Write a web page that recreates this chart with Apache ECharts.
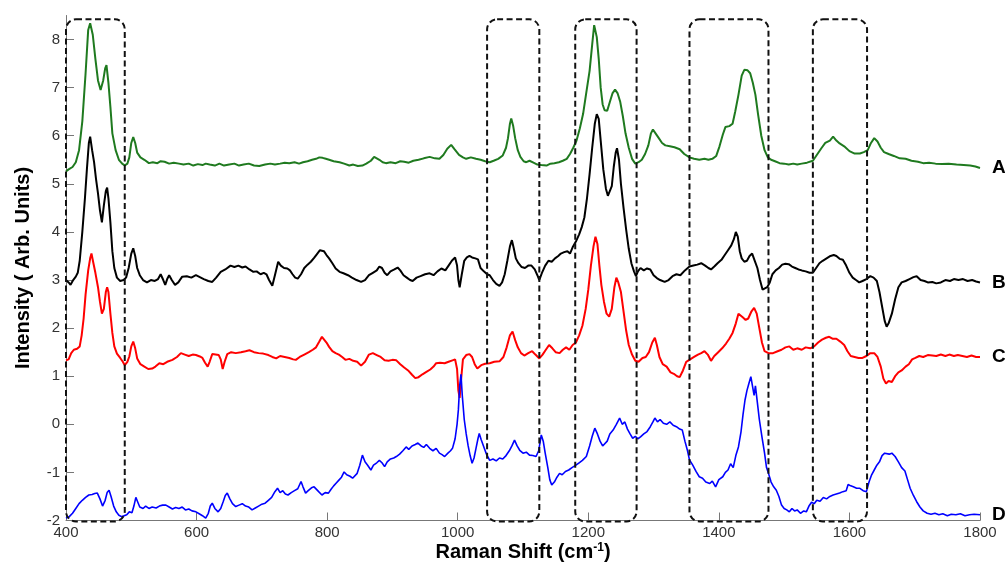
<!DOCTYPE html>
<html>
<head>
<meta charset="utf-8">
<script src="https://cdn.jsdelivr.net/npm/echarts@6.0.0/dist/echarts.min.js"></script>
<style>
html,body{margin:0;padding:0;background:#fff;}
#chart{width:1005px;height:563px;}
</style>
</head>
<body>
<div id="chart"></div>
<script>
// ---- data (Raman shift cm-1, intensity arb. units) ----
const xTicks = [400, 600, 800, 1000, 1200, 1400, 1600, 1800];
const yTicks = [-2, -1, 0, 1, 2, 3, 4, 5, 6, 7, 8];
const curveLabels = ['A', 'B', 'C', 'D'];
const curveColors = ['#1f7a1f', '#000000', '#ff0000', '#0000ff'];
const boxRanges = [[400, 490], [1045, 1125], [1180, 1274], [1355, 1476], [1544, 1627]];
const boxYRange = [-2.02, 8.42];

const spectrumA = [[400,5.26],[404,5.3],[410,5.35],[415,5.45],[420,5.7],[425,6.3],[430,7.3],[434,8.2],[437,8.34],[441,8.1],[445,7.6],[449,7.15],[453,6.95],[457,7.15],[460,7.4],[462,7.47],[465,7.1],[468,6.6],[471,6.05],[476,5.7],[481,5.5],[486,5.42],[490,5.38],[494,5.42],[497,5.55],[500,5.85],[503,5.97],[506,5.85],[509,5.65],[514,5.55],[520,5.5],[527,5.43],[533,5.45],[540,5.43],[545,5.47],[551,5.46],[558,5.42],[565,5.44],[573,5.42],[580,5.4],[588,5.42],[595,5.38],[602,5.41],[609,5.39],[614,5.42],[620,5.4],[628,5.38],[635,5.42],[642,5.38],[650,5.4],[658,5.42],[665,5.38],[672,5.4],[680,5.42],[688,5.38],[696,5.37],[705,5.4],[713,5.42],[720,5.4],[728,5.42],[735,5.44],[742,5.43],[750,5.45],[757,5.42],[763,5.45],[770,5.47],[777,5.5],[783,5.52],[788,5.55],[793,5.54],[798,5.52],[803,5.5],[810,5.47],[819,5.45],[826,5.42],[834,5.38],[840,5.4],[847,5.37],[854,5.38],[860,5.42],[867,5.48],[872,5.56],[875,5.58],[880,5.5],[885,5.45],[890,5.43],[897,5.45],[905,5.43],[912,5.47],[918,5.46],[925,5.44],[932,5.48],[940,5.5],[948,5.53],[957,5.56],[965,5.53],[972,5.52],[978,5.6],[984,5.73],[990,5.81],[995,5.72],[1002,5.6],[1008,5.55],[1013,5.52],[1020,5.55],[1028,5.52],[1035,5.5],[1042,5.47],[1049,5.45],[1055,5.48],[1062,5.52],[1069,5.59],[1074,5.75],[1077,5.95],[1080,6.25],[1082,6.36],[1085,6.2],[1088,5.95],[1092,5.7],[1096,5.56],[1101,5.47],[1105,5.45],[1110,5.48],[1116,5.44],[1122,5.4],[1128,5.39],[1136,5.38],[1142,5.42],[1148,5.43],[1155,5.45],[1161,5.48],[1167,5.52],[1172,5.62],[1177,5.75],[1182,5.9],[1187,6.15],[1192,6.45],[1197,6.9],[1202,7.35],[1206,7.9],[1209,8.3],[1211,8.34],[1213,8.05],[1216,7.6],[1219,7.0],[1222,6.65],[1225,6.53],[1229,6.52],[1233,6.7],[1237,6.88],[1241,6.96],[1245,6.88],[1249,6.7],[1253,6.4],[1257,6.05],[1262,5.75],[1267,5.52],[1272,5.42],[1277,5.45],[1282,5.5],[1287,5.62],[1292,5.8],[1296,6.05],[1299,6.13],[1303,6.05],[1308,5.95],[1313,5.85],[1318,5.8],[1325,5.78],[1332,5.76],[1340,5.72],[1347,5.62],[1355,5.55],[1362,5.52],[1370,5.5],[1378,5.52],[1384,5.5],[1390,5.52],[1396,5.58],[1401,5.78],[1406,6.02],[1410,6.18],[1416,6.2],[1421,6.25],[1425,6.5],[1430,6.85],[1435,7.25],[1439,7.37],[1444,7.36],[1448,7.3],[1452,7.1],[1456,6.85],[1460,6.45],[1465,6.0],[1470,5.7],[1475,5.55],[1480,5.5],[1486,5.47],[1493,5.43],[1500,5.42],[1507,5.4],[1514,5.42],[1520,5.4],[1527,5.42],[1535,5.44],[1544,5.48],[1550,5.6],[1557,5.74],[1563,5.85],[1570,5.9],[1575,5.98],[1580,5.9],[1585,5.84],[1592,5.78],[1600,5.68],[1608,5.63],[1616,5.63],[1622,5.66],[1628,5.7],[1633,5.85],[1638,5.95],[1643,5.88],[1648,5.75],[1653,5.66],[1660,5.62],[1668,5.58],[1677,5.53],[1686,5.52],[1695,5.48],[1705,5.46],[1713,5.43],[1722,5.44],[1732,5.42],[1742,5.41],[1752,5.42],[1764,5.4],[1775,5.39],[1785,5.38],[1793,5.36],[1800,5.33]];

const spectrumB = [[400,3.0],[404,2.95],[407,2.9],[411,3.0],[415,3.07],[418,3.15],[421,3.4],[425,4.0],[429,4.7],[432,5.3],[435,5.85],[437,5.98],[440,5.7],[443,5.45],[446,5.1],[449,4.8],[452,4.45],[455,4.2],[458,4.55],[461,4.85],[463,4.92],[465,4.7],[468,4.2],[471,3.6],[474,3.25],[478,3.05],[483,2.98],[488,3.0],[492,3.05],[496,3.25],[500,3.55],[503,3.66],[506,3.5],[509,3.25],[513,3.1],[518,3.0],[524,2.95],[530,3.0],[536,2.98],[541,3.02],[545,3.12],[549,3.0],[552,2.9],[555,3.02],[558,3.1],[562,3.0],[567,2.9],[572,2.95],[578,3.07],[585,3.08],[592,3.05],[599,3.1],[605,3.06],[611,3.02],[618,2.98],[624,2.96],[630,3.05],[637,3.17],[644,3.22],[652,3.3],[658,3.27],[664,3.3],[670,3.26],[675,3.28],[681,3.22],[687,3.17],[692,3.18],[698,3.12],[703,3.15],[707,3.12],[711,3.0],[716,2.88],[720,3.1],[725,3.38],[729,3.3],[734,3.25],[739,3.24],[743,3.2],[747,3.12],[751,3.05],[755,3.03],[760,3.12],[765,3.25],[770,3.32],[775,3.38],[780,3.46],[785,3.55],[789,3.62],[792,3.66],[795,3.6],[799,3.52],[803,3.45],[808,3.35],[813,3.24],[819,3.17],[825,3.14],[832,3.1],[838,3.05],[845,3.0],[852,2.96],[858,3.0],[864,3.1],[870,3.15],[876,3.2],[880,3.28],[884,3.25],[888,3.15],[892,3.1],[897,3.18],[903,3.22],[908,3.26],[912,3.2],[917,3.1],[922,3.05],[927,3.0],[931,2.98],[937,3.05],[943,3.08],[950,3.12],[957,3.14],[963,3.1],[969,3.18],[975,3.24],[981,3.2],[986,3.3],[991,3.4],[996,3.47],[999,3.3],[1001,3.0],[1003,2.85],[1006,3.1],[1010,3.4],[1014,3.47],[1018,3.5],[1022,3.47],[1027,3.45],[1031,3.43],[1035,3.25],[1040,3.18],[1045,3.12],[1049,3.1],[1054,3.0],[1059,2.92],[1064,2.88],[1068,2.95],[1072,3.12],[1076,3.4],[1080,3.7],[1083,3.83],[1086,3.65],[1089,3.45],[1093,3.35],[1098,3.27],[1103,3.25],[1108,3.3],[1113,3.3],[1118,3.22],[1122,3.1],[1125,3.0],[1129,3.15],[1134,3.3],[1139,3.4],[1144,3.38],[1149,3.45],[1154,3.5],[1158,3.55],[1163,3.58],[1168,3.6],[1172,3.55],[1176,3.68],[1181,3.8],[1186,3.95],[1190,4.1],[1194,4.3],[1198,4.7],[1202,5.2],[1206,5.75],[1210,6.25],[1213,6.45],[1216,6.35],[1219,5.9],[1223,5.3],[1227,4.9],[1230,4.75],[1233,4.72],[1236,4.95],[1239,5.35],[1242,5.65],[1244,5.74],[1247,5.5],[1250,5.0],[1254,4.5],[1258,4.05],[1262,3.65],[1266,3.35],[1270,3.18],[1273,3.08],[1276,3.18],[1280,3.25],[1285,3.2],[1290,3.24],[1295,3.22],[1300,3.1],[1305,3.04],[1310,3.0],[1317,2.96],[1323,3.0],[1329,3.08],[1335,3.12],[1341,3.1],[1348,3.2],[1355,3.28],[1361,3.3],[1367,3.32],[1373,3.35],[1379,3.3],[1384,3.25],[1388,3.22],[1393,3.28],[1398,3.35],[1404,3.42],[1409,3.52],[1414,3.62],[1419,3.72],[1423,3.85],[1426,4.0],[1429,3.9],[1432,3.6],[1435,3.45],[1439,3.38],[1443,3.4],[1447,3.5],[1451,3.55],[1455,3.4],[1459,3.25],[1463,3.0],[1467,2.8],[1470,2.76],[1474,2.85],[1478,2.95],[1482,3.12],[1487,3.2],[1492,3.25],[1497,3.32],[1502,3.34],[1507,3.33],[1512,3.28],[1517,3.25],[1522,3.22],[1527,3.2],[1533,3.18],[1539,3.15],[1544,3.15],[1549,3.25],[1554,3.35],[1559,3.4],[1565,3.45],[1571,3.5],[1576,3.52],[1580,3.5],[1585,3.44],[1590,3.42],[1595,3.3],[1600,3.15],[1605,3.05],[1610,3.0],[1615,2.95],[1620,2.98],[1626,3.02],[1632,3.08],[1637,3.05],[1642,2.98],[1646,2.75],[1650,2.45],[1654,2.15],[1657,2.03],[1660,2.1],[1665,2.3],[1670,2.6],[1675,2.85],[1680,2.95],[1686,2.98],[1692,3.02],[1698,3.06],[1703,3.08],[1709,3.0],[1715,2.98],[1720,2.95],[1727,2.96],[1733,2.93],[1740,2.95],[1747,3.0],[1754,2.98],[1760,3.02],[1767,3.0],[1774,3.02],[1781,2.98],[1788,3.0],[1794,2.97],[1800,2.95]];

const spectrumC = [[400,1.33],[404,1.35],[408,1.48],[412,1.55],[417,1.57],[421,1.62],[424,1.85],[427,2.2],[430,2.7],[434,3.2],[437,3.45],[439,3.55],[442,3.35],[445,3.15],[449,2.85],[452,2.55],[455,2.3],[458,2.4],[461,2.75],[463,2.85],[465,2.75],[468,2.3],[471,1.9],[474,1.62],[478,1.47],[483,1.38],[487,1.3],[490,1.23],[494,1.3],[497,1.41],[500,1.62],[503,1.72],[506,1.58],[509,1.37],[514,1.25],[520,1.2],[526,1.15],[532,1.16],[537,1.2],[543,1.27],[549,1.25],[555,1.3],[563,1.34],[570,1.4],[576,1.48],[582,1.45],[588,1.42],[594,1.45],[599,1.44],[605,1.41],[609,1.38],[613,1.28],[617,1.2],[620,1.3],[624,1.46],[629,1.45],[634,1.44],[637,1.35],[640,1.15],[643,1.3],[647,1.46],[653,1.5],[660,1.48],[668,1.5],[675,1.52],[681,1.54],[688,1.5],[695,1.48],[702,1.47],[710,1.44],[716,1.4],[722,1.37],[728,1.42],[735,1.4],[742,1.38],[748,1.35],[752,1.34],[758,1.4],[765,1.45],[772,1.5],[778,1.55],[783,1.6],[788,1.72],[792,1.82],[795,1.78],[799,1.7],[803,1.61],[808,1.52],[813,1.48],[818,1.45],[823,1.4],[828,1.34],[834,1.36],[840,1.32],[846,1.3],[852,1.22],[858,1.3],[864,1.45],[870,1.48],[876,1.44],[882,1.4],[888,1.33],[894,1.32],[900,1.34],[906,1.33],[912,1.25],[918,1.18],[924,1.12],[930,1.03],[935,0.96],[940,0.98],[946,1.04],[952,1.09],[958,1.14],[963,1.2],[967,1.27],[973,1.28],[980,1.27],[986,1.3],[992,1.33],[996,1.35],[999,1.15],[1001,0.7],[1003,0.55],[1005,0.9],[1008,1.35],[1013,1.44],[1018,1.46],[1022,1.4],[1026,1.25],[1030,1.16],[1036,1.23],[1042,1.26],[1049,1.27],[1056,1.3],[1064,1.31],[1070,1.4],[1075,1.6],[1080,1.85],[1084,1.93],[1088,1.75],[1092,1.6],[1097,1.48],[1102,1.43],[1108,1.48],[1114,1.52],[1119,1.45],[1125,1.37],[1130,1.45],[1135,1.55],[1140,1.65],[1145,1.58],[1150,1.5],[1156,1.48],[1161,1.55],[1166,1.6],[1171,1.55],[1176,1.65],[1181,1.7],[1186,1.85],[1191,2.05],[1196,2.4],[1200,2.8],[1204,3.3],[1208,3.7],[1211,3.9],[1214,3.75],[1217,3.3],[1220,2.9],[1224,2.55],[1228,2.3],[1232,2.24],[1236,2.4],[1240,2.85],[1243,3.05],[1246,2.95],[1250,2.75],[1254,2.35],[1258,1.95],[1262,1.65],[1267,1.45],[1272,1.32],[1277,1.3],[1283,1.38],[1288,1.4],[1293,1.5],[1298,1.7],[1302,1.8],[1305,1.65],[1309,1.4],[1314,1.25],[1320,1.2],[1326,1.08],[1331,1.05],[1336,1.0],[1340,0.98],[1345,1.12],[1350,1.3],[1356,1.35],[1362,1.4],[1368,1.45],[1373,1.48],[1378,1.52],[1383,1.45],[1388,1.32],[1393,1.42],[1399,1.5],[1405,1.58],[1411,1.68],[1416,1.78],[1421,1.9],[1426,2.1],[1430,2.3],[1433,2.34],[1437,2.22],[1441,2.17],[1445,2.2],[1450,2.35],[1454,2.42],[1458,2.3],[1462,2.0],[1466,1.7],[1470,1.52],[1476,1.48],[1483,1.48],[1490,1.52],[1496,1.55],[1502,1.6],[1508,1.62],[1514,1.55],[1520,1.58],[1527,1.55],[1533,1.6],[1540,1.58],[1546,1.62],[1552,1.7],[1558,1.76],[1564,1.8],[1569,1.82],[1574,1.78],[1580,1.78],[1586,1.72],[1592,1.65],[1597,1.52],[1602,1.42],[1608,1.4],[1614,1.38],[1620,1.38],[1626,1.42],[1632,1.48],[1638,1.48],[1643,1.4],[1648,1.2],[1652,0.95],[1656,0.85],[1660,0.9],[1665,0.88],[1670,1.0],[1675,1.08],[1680,1.12],[1686,1.2],[1691,1.25],[1696,1.35],[1701,1.38],[1707,1.42],[1713,1.4],[1720,1.44],[1727,1.43],[1733,1.42],[1740,1.45],[1747,1.42],[1753,1.45],[1760,1.42],[1766,1.44],[1773,1.42],[1780,1.4],[1787,1.43],[1794,1.4],[1800,1.4]];

const spectrumD = [[400,-1.95],[405,-1.92],[410,-1.85],[415,-1.75],[420,-1.65],[425,-1.58],[430,-1.52],[435,-1.47],[440,-1.46],[444,-1.44],[448,-1.43],[452,-1.55],[456,-1.7],[460,-1.58],[463,-1.42],[466,-1.37],[469,-1.5],[473,-1.7],[477,-1.82],[481,-1.89],[485,-1.92],[489,-1.9],[493,-1.88],[497,-1.82],[501,-1.84],[504,-1.7],[507,-1.52],[510,-1.62],[513,-1.72],[518,-1.75],[522,-1.7],[527,-1.75],[532,-1.72],[538,-1.74],[543,-1.7],[548,-1.68],[553,-1.68],[558,-1.72],[563,-1.76],[568,-1.73],[573,-1.75],[578,-1.72],[583,-1.78],[588,-1.76],[593,-1.8],[599,-1.82],[604,-1.86],[609,-1.9],[614,-1.95],[618,-1.85],[621,-1.7],[624,-1.64],[628,-1.75],[633,-1.82],[637,-1.75],[641,-1.6],[644,-1.48],[647,-1.43],[651,-1.55],[655,-1.65],[660,-1.71],[665,-1.68],[670,-1.65],[675,-1.7],[680,-1.72],[685,-1.78],[690,-1.74],[695,-1.7],[700,-1.66],[705,-1.64],[710,-1.58],[715,-1.52],[720,-1.4],[724,-1.33],[728,-1.42],[732,-1.38],[736,-1.45],[740,-1.47],[745,-1.42],[750,-1.38],[755,-1.34],[760,-1.19],[763,-1.3],[767,-1.43],[771,-1.38],[776,-1.32],[780,-1.3],[783,-1.31],[787,-1.4],[792,-1.47],[797,-1.42],[802,-1.43],[806,-1.35],[810,-1.28],[814,-1.22],[818,-1.16],[822,-1.1],[826,-0.99],[830,-1.05],[835,-1.08],[839,-1.12],[842,-1.16],[846,-1.02],[850,-0.85],[854,-0.64],[858,-0.78],[862,-0.85],[867,-0.95],[871,-0.85],[876,-0.8],[880,-0.75],[884,-0.8],[888,-0.88],[892,-0.78],[897,-0.72],[902,-0.7],[906,-0.67],[911,-0.62],[916,-0.55],[921,-0.47],[925,-0.52],[930,-0.45],[935,-0.42],[939,-0.39],[944,-0.45],[948,-0.48],[952,-0.42],[957,-0.5],[962,-0.55],[967,-0.5],[972,-0.6],[976,-0.63],[980,-0.67],[985,-0.6],[989,-0.55],[992,-0.5],[996,-0.3],[999,0.0],[1001,0.3],[1003,0.8],[1005,1.04],[1007,0.6],[1010,0.1],[1013,-0.2],[1016,-0.45],[1019,-0.65],[1022,-0.81],[1025,-0.7],[1028,-0.5],[1031,-0.3],[1033,-0.19],[1036,-0.32],[1040,-0.47],[1044,-0.62],[1049,-0.75],[1054,-0.72],[1059,-0.76],[1064,-0.7],[1069,-0.72],[1074,-0.65],[1079,-0.55],[1083,-0.45],[1087,-0.33],[1091,-0.45],[1095,-0.54],[1100,-0.6],[1105,-0.58],[1110,-0.64],[1115,-0.65],[1120,-0.67],[1124,-0.55],[1128,-0.22],[1131,-0.35],[1134,-0.6],[1138,-0.9],[1141,-1.15],[1144,-1.26],[1148,-1.2],[1152,-1.1],[1156,-1.02],[1160,-1.05],[1165,-0.98],[1170,-0.95],[1175,-0.9],[1181,-0.85],[1186,-0.8],[1191,-0.75],[1197,-0.67],[1202,-0.45],[1206,-0.25],[1210,-0.08],[1214,-0.2],[1218,-0.35],[1222,-0.45],[1225,-0.47],[1229,-0.35],[1233,-0.2],[1238,-0.12],[1243,0.0],[1248,0.13],[1252,0.0],[1256,0.05],[1260,-0.1],[1264,-0.2],[1268,-0.29],[1272,-0.25],[1276,-0.3],[1280,-0.26],[1285,-0.2],[1290,-0.15],[1295,-0.05],[1299,0.05],[1302,0.13],[1306,0.05],[1310,0.1],[1315,0.02],[1320,0.0],[1325,0.05],[1330,-0.02],[1335,-0.05],[1340,-0.1],[1344,-0.12],[1348,-0.35],[1352,-0.55],[1355,-0.74],[1360,-0.85],[1365,-0.98],[1370,-1.09],[1375,-1.12],[1380,-1.2],[1386,-1.23],[1390,-1.18],[1395,-1.3],[1400,-1.15],[1406,-1.09],[1410,-1.0],[1414,-0.95],[1418,-0.82],[1422,-0.9],[1426,-0.65],[1430,-0.47],[1434,-0.15],[1437,0.2],[1440,0.5],[1443,0.7],[1446,0.85],[1449,0.99],[1451,0.95],[1454,0.6],[1456,0.8],[1459,0.45],[1462,0.1],[1466,-0.26],[1470,-0.6],[1473,-0.9],[1476,-1.02],[1480,-1.2],[1484,-1.3],[1488,-1.37],[1492,-1.5],[1496,-1.68],[1500,-1.75],[1504,-1.78],[1508,-1.82],[1512,-1.75],[1516,-1.8],[1520,-1.78],[1525,-1.85],[1530,-1.8],[1534,-1.82],[1538,-1.7],[1542,-1.62],[1546,-1.65],[1550,-1.58],[1555,-1.6],[1560,-1.52],[1565,-1.55],[1570,-1.5],[1575,-1.47],[1580,-1.45],[1585,-1.43],[1590,-1.4],[1595,-1.38],[1598,-1.25],[1602,-1.28],[1606,-1.3],[1611,-1.33],[1616,-1.33],[1621,-1.38],[1626,-1.4],[1630,-1.2],[1634,-1.05],[1638,-0.95],[1642,-0.85],[1646,-0.78],[1650,-0.65],[1654,-0.6],[1657,-0.57],[1661,-0.62],[1665,-0.6],[1670,-0.67],[1675,-0.78],[1680,-0.9],[1685,-0.97],[1689,-1.15],[1693,-1.33],[1698,-1.48],[1703,-1.61],[1708,-1.72],[1713,-1.8],[1719,-1.85],[1725,-1.87],[1731,-1.85],[1737,-1.88],[1743,-1.86],[1750,-1.9],[1756,-1.87],[1763,-1.88],[1770,-1.86],[1777,-1.9],[1784,-1.88],[1791,-1.87],[1800,-1.88]];

const spectra = [spectrumA, spectrumB, spectrumC, spectrumD];
const lineWidths = [2, 2, 2, 1.6];

// ---- chart ----
const chart = echarts.init(document.getElementById('chart'), null, {renderer: 'canvas'});

const lineSeries = spectra.map((d, i) => ({
  name: curveLabels[i],
  type: 'line',
  data: d,
  showSymbol: false,
  symbol: 'none',
  smooth: false,
  clip: false,
  z: 3,
  lineStyle: {color: curveColors[i], width: lineWidths[i]},
  itemStyle: {color: curveColors[i]},
  endLabel: {
    show: true,
    formatter: curveLabels[i],
    color: '#000',
    fontFamily: 'Liberation Sans, Arial, sans-serif',
    fontWeight: 'bold',
    fontSize: 19,
    distance: 12
  }
}));

const boxSeries = {
  type: 'custom',
  coordinateSystem: 'cartesian2d',
  clip: false,
  silent: true,
  z: 4,
  data: boxRanges.map(r => [r[0], r[1], boxYRange[0], boxYRange[1]]),
  encode: {x: [0, 1], y: [2, 3]},
  renderItem: function (params, api) {
    const p0 = api.coord([api.value(0), api.value(3)]);
    const p1 = api.coord([api.value(1), api.value(2)]);
    return {
      type: 'rect',
      shape: {x: p0[0], y: p0[1], width: p1[0] - p0[0], height: p1[1] - p0[1], r: 10},
      style: {fill: 'transparent', stroke: '#111', lineWidth: 2, lineDash: [6, 3.5]}
    };
  }
};

chart.setOption({
  animation: false,
  backgroundColor: '#ffffff',
  grid: {left: 66, right: 25, top: 15.5, bottom: 42.5, outerBoundsMode: 'none', containLabel: false},
  xAxis: {
    type: 'value',
    min: 400,
    max: 1800,
    interval: 200,
    name: '{b|Raman Shift (cm}{s|-1}{b|)}',
    nameLocation: 'middle',
    nameGap: 21,
    nameMoveOverlap: false,
    nameTextStyle: {
      verticalAlign: 'top',
      rich: {
        b: {fontFamily: 'Liberation Sans, Arial, sans-serif', fontWeight: 'bold', fontSize: 20, color: '#000', lineHeight: 22},
        s: {fontFamily: 'Liberation Sans, Arial, sans-serif', fontWeight: 'bold', fontSize: 12, color: '#000', verticalAlign: 'top', lineHeight: 12}
      }
    },
    axisLine: {show: true, onZero: false, lineStyle: {color: '#777', width: 1}},
    axisTick: {show: true, inside: true, length: 8, lineStyle: {color: '#777'}, customValues: xTicks},
    axisLabel: {
      customValues: xTicks,
      formatter: function (v) { return String(v); },
      color: '#333', fontFamily: 'Liberation Sans, Arial, sans-serif', fontSize: 15, margin: 5
    },
    splitLine: {show: false}
  },
  yAxis: {
    type: 'value',
    min: -2,
    max: 8.5,
    interval: 1,
    name: 'Intensity ( Arb. Units)',
    nameLocation: 'middle',
    nameGap: 33,
    nameMoveOverlap: false,
    nameTextStyle: {fontFamily: 'Liberation Sans, Arial, sans-serif', fontWeight: 'bold', fontSize: 20, color: '#000'},
    axisLine: {show: true, onZero: false, lineStyle: {color: '#777', width: 1}},
    axisTick: {show: true, inside: true, length: 8, lineStyle: {color: '#777'}, customValues: yTicks},
    axisLabel: {
      customValues: yTicks,
      formatter: function (v) { return String(v); },
      color: '#333', fontFamily: 'Liberation Sans, Arial, sans-serif', fontSize: 15, margin: 6
    },
    splitLine: {show: false}
  },
  series: lineSeries.concat([boxSeries])
});
</script>
</body>
</html>
